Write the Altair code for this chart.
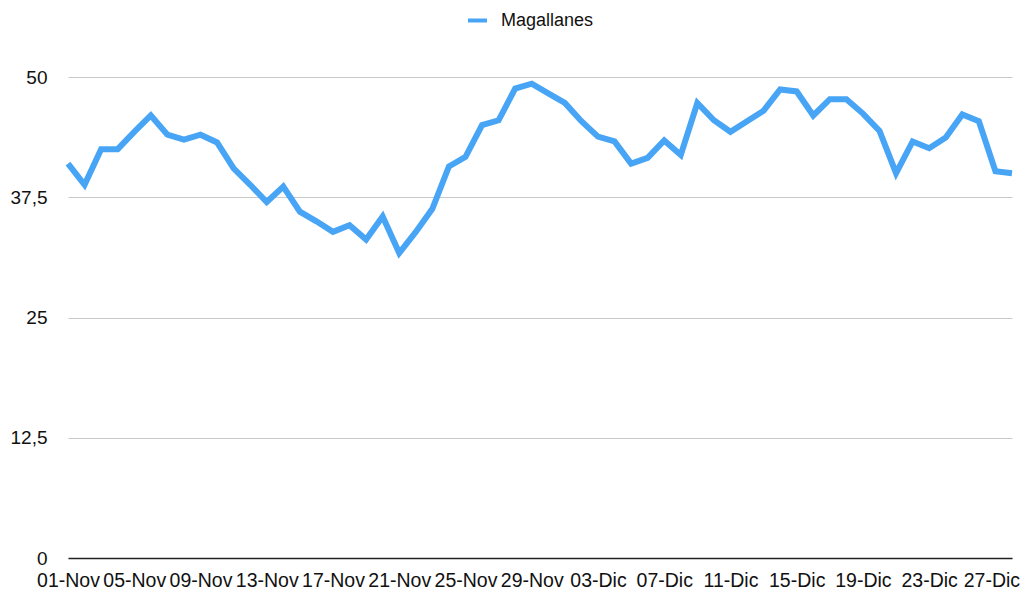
import json
import altair as alt
import pandas as pd

# Categories: daily dates 01-Nov .. 28-Dic
nov_days = [f"{d:02d}-Nov" for d in range(1, 31)]
dic_days = [f"{d:02d}-Dic" for d in range(1, 29)]
dates = nov_days + dic_days

values = [
    41.0, 38.8, 42.5, 42.5, 44.3, 46.0, 44.0, 43.5, 44.0, 43.2,
    40.5, 38.8, 37.0, 38.6, 36.0, 35.0, 33.9, 34.6, 33.1, 35.5,
    31.7, 33.9, 36.3, 40.7, 41.7, 45.0, 45.5, 48.8, 49.3, 48.3,
    47.3, 45.4, 43.8, 43.3, 41.0, 41.6, 43.4, 41.9, 47.3, 45.5,
    44.3, 45.4, 46.5, 48.7, 48.5, 46.0, 47.7, 47.7, 46.2, 44.4,
    40.0, 43.3, 42.6, 43.7, 46.1, 45.4, 40.2, 40.0,
]
series_name = "Magallanes"
x_tick_positions = list(range(0, len(dates), 4))
y_ticks = [0, 12.5, 25, 37.5, 50]

df = pd.DataFrame({
    "idx": list(range(len(dates))),
    "fecha": dates,
    "valor": values,
    "serie": series_name,
})

FONT = "Liberation Sans"
BLUE = "#48A5F6"

x_label_expr = f"{json.dumps(dates)}[datum.value]"
last_tick = x_tick_positions[-1]

chart = (
    alt.Chart(df)
    .mark_line(strokeWidth=6, strokeJoin="miter", strokeCap="butt")
    .encode(
        x=alt.X(
            "idx:Q",
            scale=alt.Scale(domain=[0, len(dates) - 1], nice=False, zero=False),
            axis=alt.Axis(
                title=None,
                values=x_tick_positions,
                labelExpr=x_label_expr,
                labelAngle=0,
                ticks=False,
                grid=False,
                labelPadding=13,
                labelFontSize=19.5,
                labelFont=FONT,
                labelColor="#111111",
                labelOverlap=False,
                labelFlush=False,
                labelBound=False,
                labelOffset={"expr": f"datum.value == {last_tick} ? -4 : 0"},
                domainColor="#222222",
                domainWidth=1.3,
            ),
        ),
        y=alt.Y(
            "valor:Q",
            scale=alt.Scale(domain=[0, 50], nice=False, zero=True),
            axis=alt.Axis(
                title=None,
                values=y_ticks,
                labelExpr="replace(toString(datum.value), '.', ',')",
                ticks=False,
                domain=False,
                grid=True,
                gridColor="#C8C8C8",
                gridWidth=1,
                labelPadding=21,
                labelFontSize=19,
                labelFont=FONT,
                labelColor="#111111",
            ),
        ),
        color=alt.Color(
            "serie:N",
            scale=alt.Scale(domain=[series_name], range=[BLUE]),
            legend=alt.Legend(
                title=None,
                orient="none",
                legendX=398,
                legendY=-68,
                direction="horizontal",
                symbolType="stroke",
                symbolStrokeWidth=4,
                symbolSize=361,
                labelFontSize=18,
                labelFont=FONT,
                labelColor="#111111",
                labelOffset=12,
                padding=0,
            ),
        ),
        tooltip=["fecha:N", "valor:Q"],
    )
    .properties(
        width=944,
        height=481,
        padding={"left": 60, "top": 69, "right": 9, "bottom": 35},
        autosize=alt.AutoSizeParams(type="none"),
    )
    .configure_view(stroke=None)
)

chart.save("out.html", embed_options={"renderer": "svg", "actions": False})
